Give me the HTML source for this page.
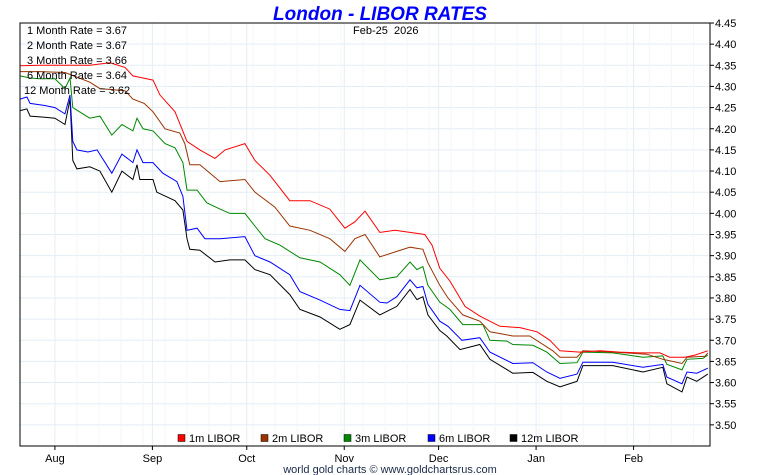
<!DOCTYPE html>
<html><head><meta charset="utf-8"><style>
html,body{margin:0;padding:0;background:#fff;}
svg{display:block;font-family:"Liberation Sans",sans-serif;}
</style></head><body>
<svg id="chart" width="760" height="475" viewBox="0 0 760 475">
<text x="380" y="20" text-anchor="middle" font-size="19" font-weight="bold" font-style="italic" fill="#0000ff">London - LIBOR RATES</text>
<g id="grid"></g>
<g id="series"></g>
<rect x="20" y="23" width="690" height="423" fill="none" stroke="#000" stroke-width="1"/>
<g id="yaxis"></g>
<g id="xaxis"></g>
<text x="353" y="34" font-size="11" fill="#000">Feb-25&#160; 2026</text>
<g id="rates"></g>
<g id="legend"></g>
<text x="390" y="473" text-anchor="middle" font-size="11" fill="#1a2a4a">world gold charts © www.goldchartsrus.com</text>
</svg>
<script>
const monthLabels = ["Aug","Sep","Oct","Nov","Dec","Jan","Feb"];
const monthDays = [0,31,61,92,122,153,184];
const yTicks = [3.50,3.55,3.60,3.65,3.70,3.75,3.80,3.85,3.90,3.95,4.00,4.05,4.10,4.15,4.20,4.25,4.30,4.35,4.40,4.45];
const seriesNames = ["1m LIBOR","2m LIBOR","3m LIBOR","6m LIBOR","12m LIBOR"];
const rateLabels = ["1 Month Rate = 3.67","2 Month Rate = 3.67","3 Month Rate = 3.66","6 Month Rate = 3.64","12 Month Rate = 3.62"];
const seriesColors = ["#ff0000","#993300","#008800","#0000ff","#000000"];

const days1m = [-11.1,-4.8,1.6,6.4,11.1,17.5,22.3,24.8,28.0,31.2,33.4,38.2,42.0,46.1,50.9,54.1,60.4,63.6,68.4,74.7,81.1,87.4,92.2,95.4,98.6,103.3,108.1,112.9,117.6,119.9,122.4,125.6,130.4,135.1,141.5,147.9,153.3,157.4,160.6,166.9,173.3,179.6,186.0,192.4,195.5,200.3,203.5,207.6];
const rate1m = [4.349,4.35,4.35,4.35,4.35,4.356,4.345,4.325,4.32,4.315,4.28,4.24,4.17,4.15,4.13,4.15,4.165,4.125,4.09,4.03,4.03,4.01,3.965,3.98,4.005,3.955,3.96,3.955,3.95,3.925,3.87,3.84,3.78,3.757,3.733,3.73,3.72,3.70,3.675,3.672,3.675,3.672,3.67,3.67,3.66,3.66,3.665,3.675];

const days2m = [-11.1,-4.8,3.2,11.1,14.3,22.3,24.8,28.4,31.2,35.0,39.7,41.3,42.9,46.1,52.5,60.4,63.6,69.9,74.7,81.1,87.4,92.2,95.4,98.6,103.3,108.7,112.9,117.0,118.6,122.4,125.0,129.7,135.1,138.3,145.6,151.0,158.3,160.6,166.0,167.9,177.4,188.2,193.3,199.4,201.0,206.7,207.6];
const rate2m = [4.335,4.335,4.333,4.31,4.295,4.29,4.27,4.26,4.24,4.20,4.19,4.165,4.115,4.115,4.075,4.08,4.05,4.015,3.97,3.96,3.94,3.91,3.94,3.95,3.897,3.91,3.92,3.915,3.883,3.83,3.80,3.76,3.745,3.72,3.71,3.71,3.675,3.66,3.66,3.675,3.672,3.667,3.655,3.645,3.66,3.662,3.67];

const days3m = [-11.1,-7.9,-4.8,0,3.2,4.8,5.7,11.1,14.3,18.1,21.3,24.8,26.1,28.0,31.2,35.0,38.2,40.7,42.0,45.2,48.3,52.5,55.6,60.4,63.6,66.8,71.5,77.9,84.3,90.6,93.8,97.0,103.3,108.7,112.9,115.1,117.0,118.6,122.4,125.6,129.7,136.1,138.3,143.7,145.6,152.0,156.4,160.6,166.0,167.9,177.4,187.0,193.3,194.6,199.4,201.0,206.0,207.6];
const rate3m = [4.325,4.32,4.318,4.318,4.295,4.32,4.25,4.225,4.23,4.185,4.21,4.195,4.225,4.20,4.195,4.165,4.155,4.12,4.055,4.055,4.025,4.01,4.0,4.0,3.97,3.94,3.925,3.895,3.885,3.855,3.83,3.89,3.843,3.85,3.885,3.867,3.874,3.83,3.79,3.773,3.737,3.737,3.70,3.698,3.69,3.688,3.672,3.645,3.647,3.672,3.67,3.66,3.663,3.643,3.63,3.655,3.657,3.665];

const days6m = [-11.1,-8.9,-7.9,-3.2,0,3.2,4.8,5.7,7.0,10.5,13.4,18.1,21.3,24.8,26.1,28.0,31.2,34.3,38.8,40.7,42.0,45.2,47.7,52.5,60.4,63.6,68.4,74.7,77.9,84.3,90.6,93.8,97.0,103.3,105.6,108.7,112.9,115.1,117.0,118.6,122.4,125.0,129.4,135.1,138.3,145.6,152.0,156.4,160.6,166.0,167.9,177.4,187.0,193.3,194.6,199.4,201.0,204.1,207.6];
const rate6m = [4.27,4.275,4.26,4.255,4.25,4.235,4.28,4.17,4.15,4.145,4.15,4.095,4.14,4.12,4.15,4.12,4.12,4.095,4.075,4.04,3.96,3.965,3.94,3.94,3.945,3.90,3.885,3.855,3.815,3.795,3.773,3.77,3.83,3.79,3.788,3.803,3.843,3.824,3.827,3.785,3.745,3.733,3.70,3.706,3.672,3.645,3.647,3.625,3.61,3.62,3.648,3.648,3.636,3.643,3.613,3.597,3.625,3.622,3.634];

const days12m = [-11.1,-8.9,-7.9,-3.2,0,3.2,4.8,5.7,7.0,11.1,14.3,18.1,21.3,24.8,26.1,27.0,31.2,32.4,38.2,40.7,42.0,42.9,46.1,50.9,55.6,60.4,63.6,68.4,74.7,77.9,84.3,90.6,93.8,97.0,103.3,108.7,112.9,115.1,117.0,118.6,122.4,124.6,128.8,135.1,138.3,145.6,152.0,156.4,160.6,166.0,167.9,177.4,187.0,193.3,194.6,199.4,201.0,204.1,207.6];
const rate12m = [4.243,4.247,4.23,4.227,4.225,4.21,4.27,4.125,4.105,4.11,4.10,4.05,4.10,4.08,4.115,4.08,4.08,4.05,4.03,4.008,3.94,3.915,3.913,3.885,3.89,3.89,3.867,3.855,3.808,3.773,3.755,3.726,3.737,3.795,3.76,3.78,3.82,3.796,3.803,3.76,3.723,3.71,3.678,3.69,3.655,3.622,3.624,3.603,3.59,3.603,3.64,3.64,3.625,3.636,3.597,3.578,3.613,3.603,3.62];

const allDays = [days1m,days2m,days3m,days6m,days12m];
const allRates = [rate1m,rate2m,rate3m,rate6m,rate12m];

const NS = "http://www.w3.org/2000/svg";
const X0 = 20, X1 = 710, Y0 = 23, Y1 = 446;
const dMin = -11.1, dMax = 208.3;
const vMin = 3.45, vMax = 4.45;
function xScale(d){ return X0 + (d - dMin) / (dMax - dMin) * (X1 - X0); }
function yScale(v){ return Y1 - (v - vMin) / (vMax - vMin) * (Y1 - Y0); }
function mk(tag, attrs, parent){ const e = document.createElementNS(NS, tag); for (const k in attrs) e.setAttribute(k, attrs[k]); parent.appendChild(e); return e; }

const grid = document.getElementById('grid');
const yaxis = document.getElementById('yaxis');
yTicks.forEach(v => {
  const y = yScale(v);
  const gl = mk('line', {x1:X0, x2:X1, y1:y, y2:y, stroke:'#e3edf5', 'stroke-width':1}, grid);
  
  
  const tk = mk('line', {x1:X1, x2:X1+4, y1:y, y2:y, stroke:'#000'}, yaxis);
  
  
  const t = mk('text', {x:X1+5, y:y+4, 'font-size':11, fill:'#000'}, yaxis);
  t.textContent = v.toFixed(2);
  
  
});
const xaxis = document.getElementById('xaxis');
for (let d = 7; d < dMax; d += 7) {
  const x = xScale(d);
  const gl = mk('line', {x1:x, x2:x, y1:Y0, y2:Y1, stroke:'#f2f6fa', 'stroke-width':1}, grid);
  
  
}
monthDays.forEach((d, i) => {
  const x = xScale(d);
  const gl = mk('line', {x1:x, x2:x, y1:Y0, y2:Y1, stroke:'#e3edf5', 'stroke-width':1}, grid);
  
  
  const tk = mk('line', {x1:x, x2:x, y1:Y1, y2:Y1+4, stroke:'#000'}, xaxis);
  
  
  const t = mk('text', {x:x, y:Y1+16, 'font-size':11, 'text-anchor':'middle', fill:'#000'}, xaxis);
  t.textContent = monthLabels[i];
  
  
});
const series = document.getElementById('series');
for (let s = allDays.length - 1; s >= 0; s--) {
  const pts = allDays[s].map((d, i) => xScale(d).toFixed(1) + ',' + yScale(allRates[s][i]).toFixed(1)).join(' ');
  const pl = mk('polyline', {points:pts, fill:'none', stroke:seriesColors[s], 'stroke-width':1}, series);
  
  
}
const rates = document.getElementById('rates');
rateLabels.forEach((r, i) => {
  const t = mk('text', {x: i === 4 ? 24 : 27, y:34 + i*15, 'font-size':11, fill:'#000'}, rates);
  t.textContent = r;
  
  
});
const legend = document.getElementById('legend');
const legX = [178, 261, 344, 428, 510];
seriesNames.forEach((n, i) => {
  const g = mk('g', {}, legend);
  
  
  mk('rect', {x:legX[i], y:434.5, width:7, height:7, fill:seriesColors[i], stroke:'#000', 'stroke-width':0.5}, g);
  const t = mk('text', {x:legX[i]+11, y:442, 'font-size':11, fill:'#000'}, g);
  t.textContent = n;
});
</script>
</body></html>
